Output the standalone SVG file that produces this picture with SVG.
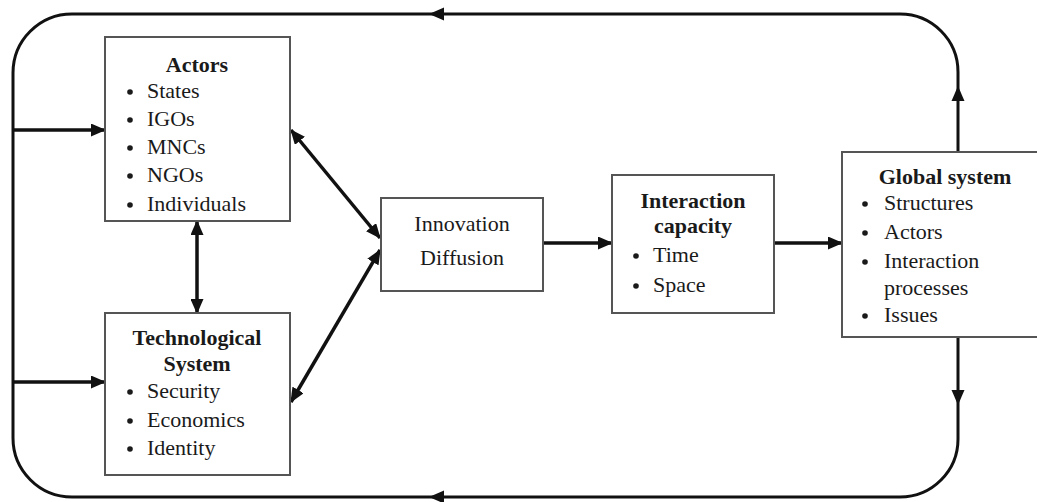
<svg xmlns="http://www.w3.org/2000/svg" xmlns:xlink="http://www.w3.org/1999/xlink" width="1037" height="502" viewBox="0 0 1037 502">
<style>
.box{fill:#fff;stroke:#555;stroke-width:2}
.t{font-family:"Liberation Serif","Times New Roman",serif;font-size:22px;fill:#1a1a1a}
.b{font-weight:bold;text-anchor:middle;font-size:22px}
.c{text-anchor:middle}
.dot{fill:#1a1a1a}
.ln{fill:none;stroke:#111;stroke-width:3}
.ar{fill:none;stroke:#111;stroke-width:3.5;marker-end:url(#m)}
.dbl{fill:none;stroke:#111;stroke-width:3.5;marker-end:url(#m);marker-start:url(#m)}
.ah{fill:#111}
</style>
<defs>
<marker id="m" viewBox="0 0 15 13" refX="14" refY="6.5" markerWidth="15" markerHeight="13" markerUnits="userSpaceOnUse" orient="auto-start-reverse">
<path d="M0,0 L15,6.5 L0,13 Z" fill="#111"/>
</marker>
<path id="ah" d="M0,0 L-15,-6.5 L-15,6.5 Z"/>
</defs>
<rect width="1037" height="502" fill="#fff"/>

<g id="connectors">
<path class="ln" d="M958,152 L958,72 A58,58 0 0 0 900,14 L72,14 A59,59 0 0 0 13,73 L13,438 A59,59 0 0 0 72,497 L900,497 A58,58 0 0 0 958,439 L958,337"/>
<use href="#ah" class="ah" transform="translate(958,86) rotate(-90)"/>
<use href="#ah" class="ah" transform="translate(958,405) rotate(90)"/>
<use href="#ah" class="ah" transform="translate(429,14) rotate(180)"/>
<use href="#ah" class="ah" transform="translate(429,497) rotate(180)"/>
<path class="ar" d="M13,130 L105,130"/>
<path class="ar" d="M13,382 L105,382"/>
<path class="dbl" d="M197,221 L197,313"/>
<path class="dbl" d="M291,130 L380,238"/>
<path class="dbl" d="M380,250 L291,402"/>
<path class="ar" d="M543,243 L612,243"/>
<path class="ar" d="M774,243 L842,243"/>
</g>

<g id="actors">
<rect class="box" x="105" y="37" width="185" height="184"/>
<text class="t b" x="197" y="72">Actors</text>
<circle class="dot" cx="130" cy="92" r="2.8"/><text class="t" x="147" y="98">States</text>
<circle class="dot" cx="130" cy="120" r="2.8"/><text class="t" x="147" y="126">IGOs</text>
<circle class="dot" cx="130" cy="148" r="2.8"/><text class="t" x="147" y="154">MNCs</text>
<circle class="dot" cx="130" cy="176" r="2.8"/><text class="t" x="147" y="182">NGOs</text>
<circle class="dot" cx="130" cy="205" r="2.8"/><text class="t" x="147" y="211">Individuals</text>
</g>

<g id="technological">
<rect class="box" x="105" y="313" width="185" height="162"/>
<text class="t b" x="197" y="345">Technological</text>
<text class="t b" x="197" y="371">System</text>
<circle class="dot" cx="130" cy="392" r="2.8"/><text class="t" x="147" y="398">Security</text>
<circle class="dot" cx="130" cy="421" r="2.8"/><text class="t" x="147" y="427">Economics</text>
<circle class="dot" cx="130" cy="449" r="2.8"/><text class="t" x="147" y="455">Identity</text>
</g>

<g id="innovation">
<rect class="box" x="381" y="198" width="162" height="93"/>
<text class="t c" x="462" y="231">Innovation</text>
<text class="t c" x="462" y="265">Diffusion</text>
</g>

<g id="interaction">
<rect class="box" x="612" y="175" width="162" height="138"/>
<text class="t b" x="693" y="208">Interaction</text>
<text class="t b" x="693" y="233">capacity</text>
<circle class="dot" cx="636" cy="256" r="2.8"/><text class="t" x="653" y="262">Time</text>
<circle class="dot" cx="636" cy="286" r="2.8"/><text class="t" x="653" y="292">Space</text>
</g>

<g id="global">
<rect class="box" x="842" y="152" width="210" height="185"/>
<text class="t b" x="945" y="184">Global system</text>
<circle class="dot" cx="865" cy="204" r="2.8"/><text class="t" x="884" y="210">Structures</text>
<circle class="dot" cx="865" cy="233" r="2.8"/><text class="t" x="884" y="239">Actors</text>
<circle class="dot" cx="865" cy="262" r="2.8"/><text class="t" x="884" y="268">Interaction</text>
<text class="t" x="884" y="295">processes</text>
<circle class="dot" cx="865" cy="316" r="2.8"/><text class="t" x="884" y="322">Issues</text>
</g>
</svg>
